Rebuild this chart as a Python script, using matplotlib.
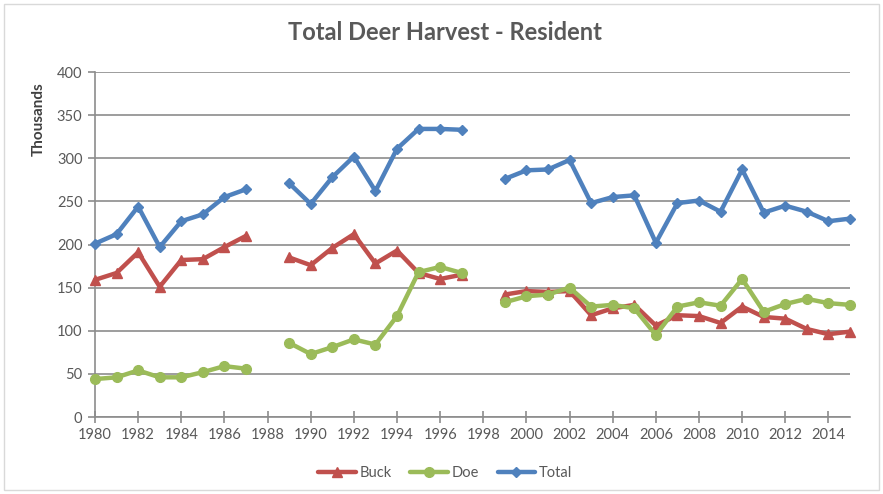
import numpy as np
import matplotlib
matplotlib.use("Agg")
import matplotlib.pyplot as plt
from matplotlib.patches import Rectangle

years_a = [1980, 1981, 1982, 1983, 1984, 1985, 1986, 1987]
years_b = [1989, 1990, 1991, 1992, 1993, 1994, 1995, 1996, 1997]
years_c = [1999, 2000, 2001, 2002, 2003, 2004, 2005, 2006, 2007, 2008,
           2009, 2010, 2011, 2012, 2013, 2014, 2015]

buck_a = [159, 167, 191, 151, 182, 183, 197, 210]
buck_b = [185, 176, 196, 212, 178, 193, 167, 160, 165]
buck_c = [142, 146, 145, 146, 118, 126, 130, 106, 118, 117, 109, 128, 116, 114, 102, 96, 99]

doe_a = [44, 46, 54, 46, 46, 52, 59, 56]
doe_b = [86, 73, 81, 90, 84, 117, 168, 174, 167]
doe_c = [133, 140, 142, 150, 128, 130, 126, 95, 128, 133, 129, 160, 122, 131, 137, 132, 130]

total_a = [201, 212, 244, 197, 227, 235, 255, 264]
total_b = [271, 247, 278, 302, 262, 311, 334, 334, 333]
total_c = [276, 286, 287, 298, 248, 255, 257, 202, 248, 251, 238, 287, 237, 245, 238, 227, 230]

title = "Total Deer Harvest - Resident"
ylabel = "Thousands"
series_names = ["Buck", "Doe", "Total"]
colors = ["#C0504D", "#9BBB59", "#4F81BD"]
markers = ["^", "o", "D"]
msizes = [7, 7, 5]

plt.rcParams['font.family'] = ['Lato', 'DejaVu Sans']

W, H = 883, 494
fig = plt.figure(figsize=(W / 100, H / 100), dpi=100)
fig.patches.append(Rectangle((4 / W, 4 / H), (W - 8) / W, (H - 8) / H,
                             transform=fig.transFigure, fill=False,
                             edgecolor="#D9D9D9", linewidth=1.0))

left, right, top, bottom = 95, 850, 72, 417
ax = fig.add_axes([left / W, 1 - bottom / H, (right - left) / W, (bottom - top) / H])

series = [
    (buck_a, buck_b, buck_c),
    (doe_a, doe_b, doe_c),
    (total_a, total_b, total_c),
]
handles = []
for (sa, sb, sc), name, col, mk, ms in zip(series, series_names, colors, markers, msizes):
    h = None
    for yrs, vals in zip((years_a, years_b, years_c), (sa, sb, sc)):
        h, = ax.plot(yrs, vals, color=col, marker=mk, markersize=ms,
                     linewidth=3.2, solid_joinstyle="round", solid_capstyle="round",
                     markeredgecolor=col, label=name, clip_on=False, zorder=3)
    handles.append(h)

ax.set_xlim(1980, 2015)
ax.set_ylim(0, 400)
ax.set_xticks(np.arange(1980, 2015, 2))
ax.set_yticks(np.arange(0, 401, 50))
ax.yaxis.grid(True, color="#8C8C8C", linewidth=1.2)
ax.set_axisbelow(True)
for s in ["top", "right"]:
    ax.spines[s].set_visible(False)
for s in ["left", "bottom"]:
    ax.spines[s].set_color("#8C8C8C")
    ax.spines[s].set_linewidth(1.2)
ax.tick_params(axis="y", length=5, width=1.2, color="#8C8C8C", labelcolor="#595959",
               labelsize=10.5, pad=4)
ax.tick_params(axis="x", direction="inout", length=8, width=1.2, color="#8C8C8C",
               labelcolor="#595959", labelsize=10.5, pad=4)

fig.text(445 / W, 1 - 33 / H, title, ha="center", va="center", fontsize=17,
         fontweight="bold", color="#595959")
fig.text(39 / W, 1 - 119 / H, ylabel, ha="center", va="center", rotation=90,
         fontsize=11, fontweight="bold", color="#404040")

leg = fig.legend(handles=handles, labels=series_names, loc="center",
                 bbox_to_anchor=(445 / W, 1 - 473 / H), ncol=3, frameon=False,
                 fontsize=10.5, handlelength=2.6, columnspacing=1.3, handletextpad=0.2,
                 labelcolor="#595959")

fig.savefig("out.png", dpi=100)
